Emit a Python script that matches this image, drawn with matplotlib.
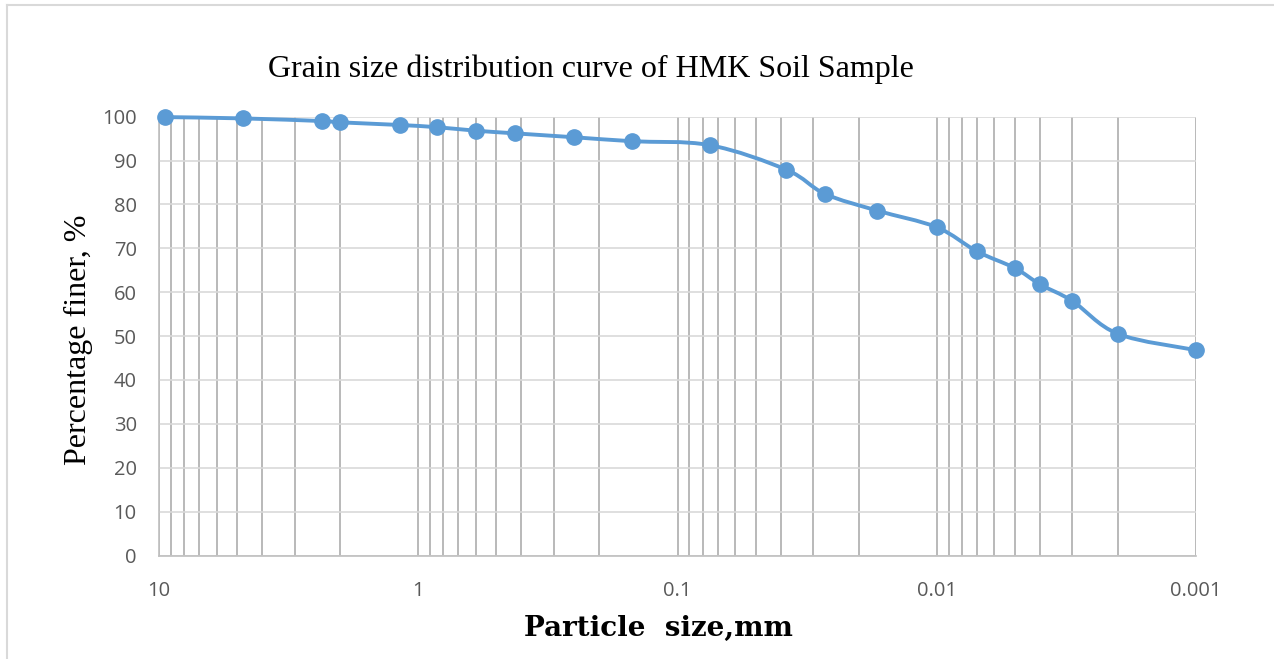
import numpy as np
import matplotlib
matplotlib.use("Agg")
import matplotlib.pyplot as plt
from matplotlib.path import Path
from matplotlib.patches import PathPatch
from matplotlib.lines import Line2D
from matplotlib.ticker import LogLocator, FixedLocator, NullFormatter

# particle size (mm) and percentage finer
size_mm = [9.5, 4.75, 2.36, 2.0, 1.18, 0.85, 0.6, 0.425, 0.25, 0.15, 0.075,
           0.038, 0.027, 0.017, 0.010, 0.007, 0.005, 0.004, 0.003, 0.002, 0.001]
finer = [99.9, 99.6, 99.0, 98.7, 98.1, 97.6, 96.8, 96.2, 95.3, 94.4, 93.5,
         87.9, 82.4, 78.6, 74.8, 69.3, 65.5, 61.8, 58.0, 50.5, 46.8]
x_ticks = [10, 1, 0.1, 0.01, 0.001]
x_tick_labels = ["10", "1", "0.1", "0.01", "0.001"]

blue = "#5B9BD5"

fig = plt.figure(figsize=(12.74, 6.59), dpi=100)
ax = fig.add_axes([0.1248, 0.157, 0.814, 0.666])

ax.set_xscale("log")
ax.set_xlim(10, 0.001)
ax.set_ylim(0, 100)

# smoothed line (bezier through the points, like a spreadsheet "smoothed line")
lx = np.log10(size_mm)
py = np.array(finer)
n = len(lx)
verts = [(size_mm[0], finer[0])]
codes = [Path.MOVETO]
for i in range(n - 1):
    i0 = max(i - 1, 0)
    i3 = min(i + 2, n - 1)
    c1x = lx[i] + (lx[i + 1] - lx[i0]) / 6
    c1y = py[i] + (py[i + 1] - py[i0]) / 6
    c2x = lx[i + 1] - (lx[i3] - lx[i]) / 6
    c2y = py[i + 1] - (py[i3] - py[i]) / 6
    verts += [(10 ** c1x, c1y), (10 ** c2x, c2y), (size_mm[i + 1], finer[i + 1])]
    codes += [Path.CURVE4] * 3
ax.add_patch(PathPatch(Path(verts, codes), facecolor="none", edgecolor=blue,
                       lw=2.8, capstyle="round", joinstyle="round", zorder=3, clip_on=False))
ax.plot(size_mm, finer, "o", color=blue, markersize=11, zorder=4, clip_on=False)

# grid
ax.xaxis.set_major_locator(FixedLocator(x_ticks))
ax.set_xticklabels(x_tick_labels)
ax.xaxis.set_minor_locator(LogLocator(base=10, subs=np.arange(2, 10)))
ax.xaxis.set_minor_formatter(NullFormatter())
ax.set_yticks(np.arange(0, 101, 10))
ax.grid(axis="x", which="both", color="#ADADAD", lw=1.2)
ax.grid(axis="y", which="major", color="#D9D9D9", lw=1.2)
ax.set_axisbelow(True)
ax.tick_params(which="both", length=0, labelsize=14.5, labelcolor="#595959")
ax.tick_params(axis="y", pad=16)
ax.tick_params(axis="x", pad=18)
for lab in ax.get_xticklabels() + ax.get_yticklabels():
    lab.set_fontfamily("Open Sans")

for s in ["top", "right"]:
    ax.spines[s].set_visible(False)
ax.spines["left"].set_color("#BFBFBF")
ax.spines["bottom"].set_color("#BFBFBF")
ax.spines["left"].set_linewidth(1.2)
ax.spines["bottom"].set_linewidth(1.2)

fig.text(0.464, 0.895, "Grain size distribution curve of HMK Soil Sample",
         family="Liberation Serif", fontsize=23, ha="center", va="center")
fig.text(0.062, 0.484, "Percentage finer, %", family="Liberation Serif",
         fontsize=23, rotation=90, ha="center", va="center")
fig.text(0.517, 0.047, "Particle  size,mm", family="DejaVu Serif",
         fontsize=20, fontweight="bold", ha="center", va="center")

# chart area border (top and left visible)
fig.add_artist(Line2D([0.0055, 1.0], [0.9924, 0.9924], color="#D9D9D9", lw=1.5))
fig.add_artist(Line2D([0.0055, 0.0055], [0.0, 0.9924], color="#D9D9D9", lw=1.5))

fig.savefig("out.png", dpi=100)
